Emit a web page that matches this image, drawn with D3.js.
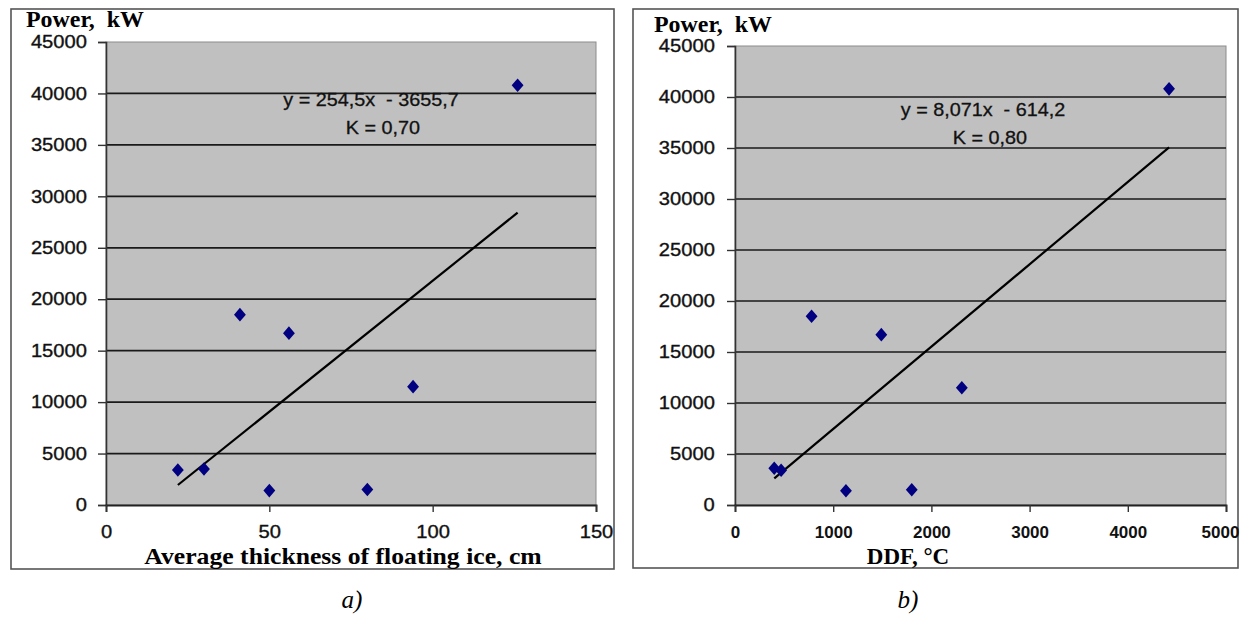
<!DOCTYPE html>
<html>
<head>
<meta charset="utf-8">
<script src="https://cdn.jsdelivr.net/npm/d3@7"></script>
<style>
  html, body { margin: 0; padding: 0; background: #fff; }
  svg { display: block; }
</style>
</head>
<body>
<svg id="chart" width="1242" height="640"></svg>
<script>
// Installed power of each site, kW (same sites in both panels)
const powerKW = [3400, 3500, 18500, 1400, 16700, 1500, 11500, 40800];
// Panel a: average thickness of floating ice, cm
const iceThickness = [22, 30, 41, 50, 56, 80, 94, 126];
// Panel b: degree-days of frost, °C
const ddfPowerKW = [3600, 3400, 18500, 1400, 16700, 1500, 11500, 40800];
const ddf = [400, 470, 780, 1130, 1490, 1800, 2310, 4420];

// Linear trend lines: slope, intercept, correlation
const trendA = { slope: 254.5, intercept: -3655.7, label: "y = 254,5x \u00a0- 3655,7", k: "K = 0,70" };
const trendB = { slope: 8.071, intercept: -614.2, label: "y = 8,071x \u00a0- 614,2", k: "K = 0,80" };

// Axis ticks
const yTicks = [0, 5000, 10000, 15000, 20000, 25000, 30000, 35000, 40000, 45000];
const xTicksA = [0, 50, 100, 150];
const xTicksB = [0, 1000, 2000, 3000, 4000, 5000];

const svg = d3.select("#chart");
const SANS = "'Liberation Sans', Arial, sans-serif";
const SERIF = "'Liberation Serif', 'Times New Roman', serif";

function panel(cfg) {
  const g = svg.append("g");

  // outer frame
  g.append("rect")
    .attr("x", cfg.box[0]).attr("y", cfg.box[1])
    .attr("width", cfg.box[2] - cfg.box[0]).attr("height", cfg.box[3] - cfg.box[1])
    .attr("fill", "#fff").attr("stroke", "#555").attr("stroke-width", 1.6);

  const x = d3.scaleLinear().domain(cfg.xDomain).range([cfg.plot[0], cfg.plot[2]]);
  const y = d3.scaleLinear().domain([0, 45000]).range([cfg.plot[3], cfg.plot[1]]);

  // plot area
  g.append("rect")
    .attr("x", x(cfg.xDomain[0])).attr("y", y(45000))
    .attr("width", x(cfg.xDomain[1]) - x(cfg.xDomain[0]))
    .attr("height", y(0) - y(45000))
    .attr("fill", "#c0c0c0").attr("stroke", "#8c8c8c").attr("stroke-width", 1);

  // horizontal gridlines
  g.append("g").selectAll("line")
    .data(yTicks.filter(v => v > 0 && v < 45000))
    .join("line")
    .attr("x1", x(cfg.xDomain[0])).attr("x2", x(cfg.xDomain[1]))
    .attr("y1", d => y(d)).attr("y2", d => y(d))
    .attr("stroke", "#1a1a1a").attr("stroke-width", 1.7);

  // y axis
  const ya = g.append("g")
    .attr("transform", `translate(${x(cfg.xDomain[0])},0)`)
    .call(d3.axisLeft(y).tickValues(yTicks).tickSize(8).tickPadding(cfg.yPad).tickFormat(d3.format("d")));
  ya.select(".domain").attr("stroke", "#333").attr("stroke-width", 1.6);
  ya.selectAll(".tick line").attr("stroke", "#333").attr("stroke-width", 1.4);
  ya.selectAll("text")
    .attr("font-family", SANS)
    .attr("font-size", 18).attr("fill", "#111")
    .attr("stroke", "#111").attr("stroke-width", 0.35)
    .attr("transform", "scale(1.12,1)");

  // x axis
  const xa = g.append("g")
    .attr("transform", `translate(0,${y(0)})`)
    .call(d3.axisBottom(x).tickValues(cfg.xTicks).tickSize(7).tickFormat(d3.format("d")));
  xa.select(".domain").attr("stroke", "#222").attr("stroke-width", 1.8);
  xa.selectAll(".tick line").attr("stroke", "#333").attr("stroke-width", 1.4);
  xa.selectAll("text")
    .attr("y", cfg.xLabelY).attr("dy", 0)
    .attr("x", (d, i, nodes) => i === nodes.length - 1 ? cfg.lastLabelShift : 0)
    .attr("font-family", SANS)
    .attr("font-size", cfg.xFont).attr("fill", "#111")
    .attr("font-weight", cfg.xBold ? "bold" : "normal")
    .attr("stroke", "#111").attr("stroke-width", cfg.xBold ? 0 : 0.35)
    .attr("transform", `scale(${cfg.xStretch},1)`);

  // trend line across the data range
  const xs = d3.extent(cfg.xs);
  const t = cfg.trend;
  g.append("line")
    .attr("x1", x(xs[0])).attr("y1", y(t.slope * xs[0] + t.intercept))
    .attr("x2", x(xs[1])).attr("y2", y(t.slope * xs[1] + t.intercept))
    .attr("stroke", "#000").attr("stroke-width", 2.2);

  // data points as diamonds
  const diamond = d3.symbol().type(d3.symbolSquare).size(70);
  g.append("g").selectAll("path")
    .data(cfg.xs.map((v, i) => [v, cfg.ys[i]]))
    .join("path")
    .attr("d", diamond)
    .attr("transform", d => `translate(${x(d[0])},${y(d[1])}) scale(1,1.15) rotate(45)`)
    .attr("fill", "#000080");

  // equation and coefficient
  const eq = g.append("g")
    .attr("font-family", SANS)
    .attr("font-size", 18).attr("fill", "#111")
    .attr("stroke", "#111").attr("stroke-width", 0.3)
    .attr("text-anchor", "middle");
  eq.append("text").attr("transform", `translate(${cfg.eqPos[0]},${cfg.eqPos[1]}) scale(1.1,1)`).text(t.label);
  eq.append("text").attr("transform", `translate(${cfg.kPos[0]},${cfg.kPos[1]}) scale(1.1,1)`).text(t.k);

  // axis titles
  g.append("text")
    .attr("transform", `translate(${cfg.yTitle[0]},${cfg.yTitle[1]}) scale(1.04,1)`)
    .attr("font-family", SERIF)
    .attr("font-weight", "bold").attr("font-size", 23).attr("fill", "#000")
    .text("Power,\u00a0 kW");
  g.append("text")
    .attr("transform", `translate(${cfg.xTitle[0]},${cfg.xTitle[1]}) scale(${cfg.xTitleStretch},1)`)
    .attr("text-anchor", "middle")
    .attr("font-family", SERIF)
    .attr("font-weight", "bold").attr("font-size", cfg.xTitleFont).attr("fill", "#000")
    .text(cfg.xTitleText);

  // panel caption
  g.append("text")
    .attr("x", cfg.caption[0]).attr("y", cfg.caption[1])
    .attr("text-anchor", "middle")
    .attr("font-family", SERIF)
    .attr("font-style", "italic").attr("font-size", 25).attr("fill", "#000")
    .text(cfg.captionText);
}

panel({
  box: [11, 9, 614, 569],
  plot: [106, 42, 596, 505],
  xDomain: [0, 150],
  xTicks: xTicksA,
  xs: iceThickness, ys: powerKW,
  trend: trendA,
  yPad: 9,
  xLabelY: 33, xFont: 18, xStretch: 1.12, xBold: false, lastLabelShift: 0,
  eqPos: [371, 106], kPos: [383, 134],
  yTitle: [26, 27],
  xTitle: [343, 564], xTitleFont: 24, xTitleStretch: 1.07,
  xTitleText: "Average thickness of floating ice, cm",
  caption: [352, 608], captionText: "a)"
});

panel({
  box: [633, 9, 1238, 568],
  plot: [735, 46, 1226, 505],
  xDomain: [0, 5000],
  xTicks: xTicksB,
  xs: ddf, ys: ddfPowerKW,
  trend: trendB,
  yPad: 10,
  xLabelY: 33, xFont: 17, xStretch: 1.0, xBold: true, lastLabelShift: -6,
  eqPos: [983, 116], kPos: [990, 144],
  yTitle: [654, 32],
  xTitle: [908, 564], xTitleFont: 23, xTitleStretch: 1.0,
  xTitleText: "DDF, °C",
  caption: [908, 608], captionText: "b)"
});
</script>
</body>
</html>
